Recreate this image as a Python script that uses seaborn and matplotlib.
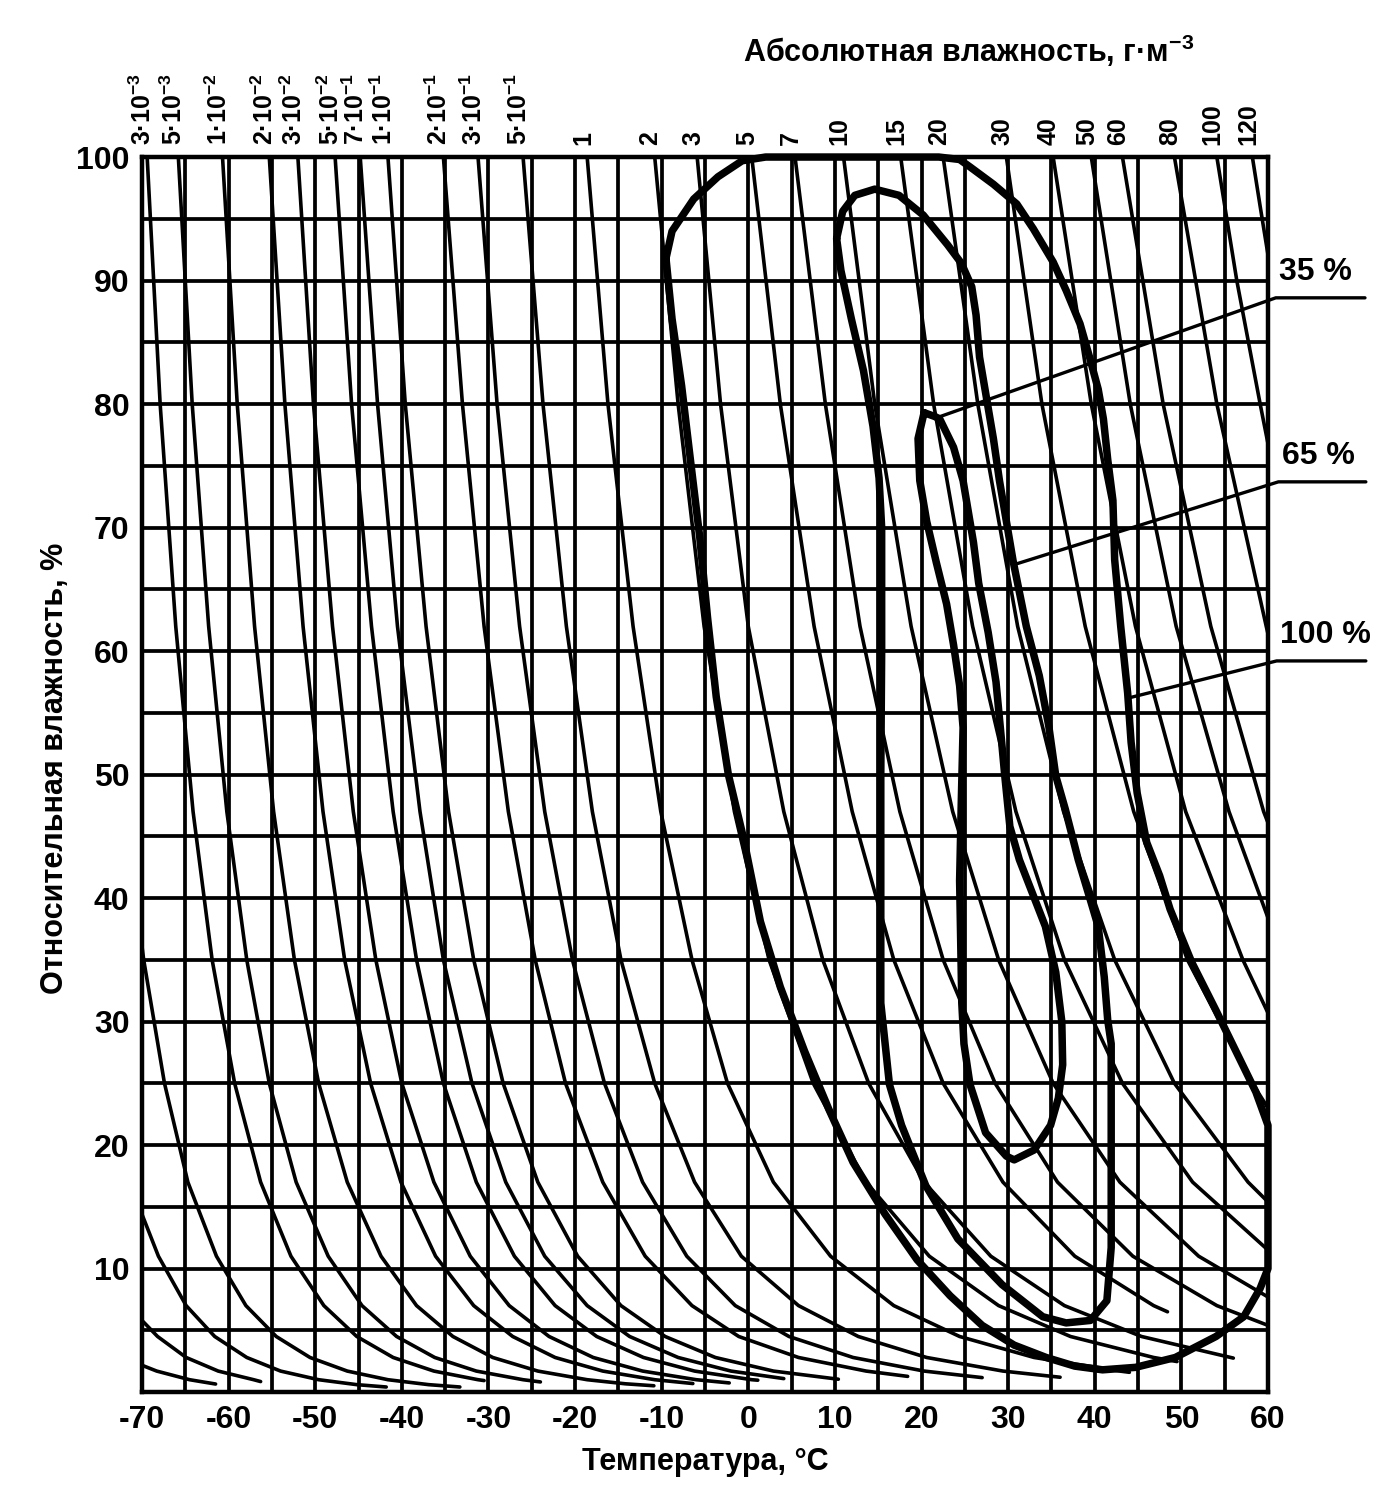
import pandas as pd
import seaborn as sns
import matplotlib
matplotlib.use("Agg")
import matplotlib.pyplot as plt

# === absolute humidity isolines, (temperature °C, relative humidity %) ===
# unlabeled lines entering from the left edge
ah_6e_5 = [(-70, 2.17), (-68.3, 1.7), (-64.5, 1.0), (-61.5, 0.65)]
ah_1_6e_4 = [(-70, 5.8), (-68.2, 4.5), (-64.9, 2.8), (-61.2, 1.7), (-57.1, 1.0), (-56.3, 0.85)]
ah_4e_4 = [(-70, 14.4), (-68.1, 11), (-64.9, 7), (-61.6, 4.5), (-57.9, 2.8), (-54.0, 1.7),
           (-49.6, 1.0), (-45.2, 0.6), (-41.8, 0.41)]
ah_1e_3 = [(-70, 36.1), (-69.8, 35), (-67.4, 25), (-64.7, 17), (-61.4, 11), (-58.0, 7), (-54.5, 4.5),
           (-50.6, 2.8), (-46.3, 1.7), (-41.6, 1.0), (-36.9, 0.6), (-33.3, 0.41)]

# labeled lines (label on top axis)
ah_3e_3 = [(-69.4, 100), (-67.9, 80), (-66.1, 62), (-64.1, 47), (-61.9, 35), (-59.3, 25), (-56.3, 17),
           (-52.8, 11), (-49.0, 7), (-45.2, 4.5), (-41.0, 2.8), (-36.3, 1.7), (-31.2, 1.0), (-30.5, 0.93)]
ah_5e_3 = [(-65.8, 100), (-64.2, 80), (-62.3, 62), (-60.2, 47), (-57.9, 35), (-55.3, 25), (-52.2, 17),
           (-48.5, 11), (-44.6, 7), (-40.6, 4.5), (-36.2, 2.8), (-31.4, 1.7), (-26.0, 1.0), (-24.0, 0.82)]
ah_1e_2 = [(-60.7, 100), (-59.0, 80), (-57.0, 62), (-54.8, 47), (-52.4, 35), (-49.6, 25), (-46.3, 17),
           (-42.4, 11), (-38.3, 7), (-34.1, 4.5), (-29.5, 2.8), (-24.3, 1.7), (-18.6, 1.0), (-14.2, 0.67),
           (-10.9, 0.51)]
ah_2e_2 = [(-55.3, 100), (-53.5, 80), (-51.4, 62), (-49.1, 47), (-46.6, 35), (-43.6, 25), (-40.1, 17),
           (-36.1, 11), (-31.7, 7), (-27.2, 4.5), (-22.3, 2.8), (-16.8, 1.7), (-10.8, 1.0), (-6.4, 0.69)]
ah_3e_2 = [(-52.0, 100), (-50.2, 80), (-48.0, 62), (-45.6, 47), (-43.0, 35), (-40.0, 25), (-36.3, 17),
           (-32.1, 11), (-27.6, 7), (-23.0, 4.5), (-17.9, 2.8), (-12.2, 1.7), (-6.0, 1.0), (-2.2, 0.74)]
ah_5e_2 = [(-47.7, 100), (-45.8, 80), (-43.5, 62), (-41.0, 47), (-38.3, 35), (-35.2, 25), (-31.4, 17),
           (-27.0, 11), (-22.3, 7), (-17.5, 4.5), (-12.1, 2.8), (-6.2, 1.7), (0.4, 1.0), (1.1, 0.96)]
ah_7e_2 = [(-44.8, 100), (-42.8, 80), (-40.5, 62), (-37.9, 47), (-35.2, 35), (-31.9, 25), (-28.0, 17),
           (-23.5, 11), (-18.6, 7), (-13.7, 4.5), (-8.1, 2.8), (-2.0, 1.7), (4.1, 1.09)]
ah_1e_1 = [(-41.6, 100), (-39.6, 80), (-37.2, 62), (-34.6, 47), (-31.7, 35), (-28.3, 25), (-24.3, 17),
           (-19.7, 11), (-14.7, 7), (-9.6, 4.5), (-3.8, 2.8), (2.9, 1.7), (10.4, 1.04)]
ah_2e_1 = [(-35.2, 100), (-33.0, 80), (-30.5, 62), (-27.7, 47), (-24.6, 35), (-21.1, 25), (-16.8, 17),
           (-11.9, 11), (-6.5, 7), (-1.1, 4.5), (5.8, 2.8), (13.6, 1.7), (18.4, 1.27)]
ah_3e_1 = [(-31.2, 100), (-29.0, 80), (-26.4, 62), (-23.5, 47), (-20.3, 35), (-16.6, 25), (-12.2, 17),
           (-7.1, 11), (-1.5, 7), (4.7, 4.5), (12.1, 2.8), (20.3, 1.7), (27.0, 1.17)]
ah_5e_1 = [(-26.0, 100), (-23.7, 80), (-21.0, 62), (-18.0, 47), (-14.7, 35), (-10.8, 25), (-6.2, 17),
           (-0.8, 11), (5.8, 7), (12.7, 4.5), (20.6, 2.8), (29.4, 1.7), (36.0, 1.2)]
ah_1 = [(-18.6, 100), (-16.2, 80), (-13.3, 62), (-10.1, 47), (-6.5, 35), (-2.4, 25), (2.9, 17),
        (9.5, 11), (16.8, 7), (24.4, 4.5), (33.0, 2.8), (42.9, 1.7), (44.0, 1.6)]
ah_2 = [(-10.8, 100), (-8.1, 80), (-5.1, 62), (-1.6, 47), (2.4, 35), (7.5, 25), (13.6, 17),
        (20.9, 11), (28.9, 7), (37.2, 4.5), (46.8, 2.8), (49.5, 2.47)]
ah_3 = [(-5.9, 100), (-3.2, 80), (0.0, 62), (4.1, 47), (8.6, 35), (13.9, 25), (20.3, 17),
        (28.0, 11), (36.5, 7), (45.4, 4.5), (56.0, 2.75)]
ah_5 = [(0.4, 100), (3.7, 80), (7.6, 62), (12.0, 47), (16.8, 35), (22.5, 25), (29.4, 17),
        (37.7, 11), (46.8, 7), (48.4, 6.5)]
ah_7 = [(5.4, 100), (8.9, 80), (12.9, 62), (17.5, 47), (22.5, 35), (28.5, 25), (35.7, 17),
        (44.4, 11), (54.1, 7), (60, 5.4)]
ah_10 = [(11.0, 100), (14.6, 80), (18.8, 62), (23.6, 47), (28.9, 35), (35.2, 25), (42.9, 17),
         (52.0, 11), (60, 7.7)]
ah_15 = [(17.6, 100), (21.4, 80), (25.9, 62), (30.9, 47), (36.5, 35), (43.2, 25), (51.3, 17), (60, 11.5)]
ah_20 = [(22.5, 100), (26.5, 80), (31.1, 62), (36.4, 47), (42.3, 35), (49.2, 25), (57.7, 17), (60, 15.4)]
ah_30 = [(29.8, 100), (33.9, 80), (38.9, 62), (44.5, 47), (50.7, 35), (58.2, 25), (60, 23.0)]
ah_40 = [(35.2, 100), (39.6, 80), (44.7, 62), (50.5, 47), (57.1, 35), (60, 30.7)]
ah_50 = [(39.6, 100), (44.1, 80), (49.4, 62), (55.5, 47), (60, 38.4)]
ah_60 = [(43.2, 100), (47.9, 80), (53.4, 62), (59.5, 47), (60, 46.1)]
ah_80 = [(49.2, 100), (54.1, 80), (59.8, 62), (60, 61.4)]
ah_100 = [(54.1, 100), (56.4, 90), (59.1, 80), (60, 76.8)]
ah_120 = [(58.2, 100), (59.1, 96), (60, 92.1)]

labeled_curves = [ah_3e_3, ah_5e_3, ah_1e_2, ah_2e_2, ah_3e_2, ah_5e_2, ah_7e_2, ah_1e_1, ah_2e_1,
                  ah_3e_1, ah_5e_1, ah_1, ah_2, ah_3, ah_5, ah_7, ah_10, ah_15, ah_20, ah_30, ah_40,
                  ah_50, ah_60, ah_80, ah_100, ah_120]
top_labels = [r"$3·10^{-3}$", r"$5·10^{-3}$", r"$1·10^{-2}$", r"$2·10^{-2}$", r"$3·10^{-2}$",
              r"$5·10^{-2}$", r"$7·10^{-1}$", r"$1·10^{-1}$", r"$2·10^{-1}$", r"$3·10^{-1}$",
              r"$5·10^{-1}$", "1", "2", "3", "5", "7", "10", "15", "20", "30", "40", "50", "60",
              "80", "100", "120"]
unlabeled_curves = [ah_6e_5, ah_1_6e_4, ah_4e_4, ah_1e_3]

# === closed zones (thick outlines) ===
zone_100 = [(-9.5, 91.8), (-8.8, 94.0), (-6.3, 96.6), (-3.5, 98.4), (-0.7, 99.7), (2.0, 100), (22.0, 100),
            (24.4, 99.8), (25.6, 99.2), (28.3, 97.8), (31.0, 96.2), (32.9, 94.2), (35.2, 91.5),
            (36.7, 89.2), (38.3, 86.5), (39.4, 83.8), (40.4, 81.2), (41.0, 78.8), (41.5, 75.5),
            (42.1, 72.2), (42.3, 67.4), (43.0, 62.0), (43.8, 56.6), (44.2, 52.6), (44.9, 48.5),
            (46.0, 44.5), (47.5, 41.8), (48.7, 39.1), (51.2, 34.8), (54.0, 30.9), (56.3, 27.6),
            (58.6, 24.3), (60.0, 21.6), (60.0, 10.0), (59.1, 8.4), (57.2, 6.1), (54.0, 4.5),
            (49.3, 2.8), (44.7, 2.0), (40.9, 1.8), (37.7, 2.1), (34.4, 2.8), (30.7, 3.8), (27.0, 5.4),
            (23.3, 7.8), (19.5, 10.7), (15.8, 14.4), (12.1, 18.6), (9.3, 22.9), (6.5, 27.6),
            (3.7, 32.8), (1.4, 38.1), (-0.5, 44.7), (-2.3, 50.0), (-3.7, 56.3), (-4.7, 62.7),
            (-5.6, 69.2), (-6.7, 75.6), (-7.7, 81.5), (-8.8, 86.9), (-9.5, 91.8)]
zone_65 = [(10.2, 93.4), (10.9, 95.6), (12.3, 96.9), (14.6, 97.4), (17.4, 96.9), (20.2, 95.3),
           (23.0, 92.9), (24.6, 91.4), (25.8, 89.5), (26.3, 87.2), (26.7, 83.8), (27.5, 80.5),
           (28.3, 77.2), (29.0, 73.8), (29.8, 70.5), (30.6, 67.2), (32.1, 62.0), (33.6, 58.0),
           (34.7, 53.9), (35.5, 49.9), (36.6, 47.2), (38.1, 43.1), (39.6, 39.6), (40.4, 37.7),
           (41.1, 33.6), (41.5, 30.1), (41.9, 28.2), (41.9, 21.6), (41.9, 11.7), (41.4, 7.4),
           (39.5, 5.8), (36.7, 5.6), (34.0, 6.1), (29.3, 8.7), (24.2, 12.4), (20.5, 16.7),
           (17.7, 21.6), (16.3, 24.9), (15.3, 31.5), (15.3, 40), (15.3, 50), (15.4, 60), (15.4, 70),
           (15.1, 74.0), (14.4, 78.2), (13.3, 82.7), (11.9, 86.9), (10.7, 90.8), (10.2, 93.4)]
zone_35 = [(20.3, 79.3), (21.5, 79.0), (22.1, 78.8), (23.7, 76.5), (24.8, 73.8), (26.0, 68.8),
           (26.6, 65.5), (27.7, 61.5), (28.6, 57.5), (29.1, 53.8), (29.6, 50.0), (30.2, 45.8),
           (31.3, 43.1), (32.8, 40.4), (34.3, 37.7), (35.5, 34.0), (36.2, 30.0), (36.3, 26.5),
           (35.8, 23.8), (34.9, 21.6), (33.0, 19.6), (30.7, 18.8), (29.8, 19.1), (27.4, 21.0),
           (25.6, 24.9), (24.9, 28.2), (24.65, 31.5), (24.4, 41.4), (24.6, 48.0), (24.8, 53.8),
           (24.4, 57.2), (23.7, 60.5), (22.9, 63.8), (21.7, 67.2), (20.6, 70.5), (19.8, 73.8),
           (19.6, 77.2), (20.3, 79.3)]
zone_names = ["35 %", "65 %", "100 %"]
# leader lines: point on the zone -> kink past right edge -> end of underline
leader_35 = [(21.8, 78.9), (60.9, 88.6), (71.2, 88.6)]
leader_65 = [(30.7, 67.0), (61.2, 73.7), (71.3, 73.7)]
leader_100 = [(43.9, 56.2), (61.0, 59.2), (71.3, 59.2)]

x_ticks = list(range(-70, 61, 10))
y_ticks = list(range(10, 101, 10))

# === build tables ===
rows = []
for i, c in enumerate(unlabeled_curves + labeled_curves):
    for t, rh in c:
        rows.append((i, t, rh))
iso = pd.DataFrame(rows, columns=["curve", "T", "RH"])

rows = []
for name, z in zip(zone_names, [zone_35, zone_65, zone_100]):
    for t, rh in z:
        rows.append((name, t, rh))
zones = pd.DataFrame(rows, columns=["zone", "T", "RH"])

rows = []
for name, z in zip(zone_names, [leader_35, leader_65, leader_100]):
    for t, rh in z:
        rows.append((name, t, rh))
leaders = pd.DataFrame(rows, columns=["zone", "T", "RH"])

# === style ===
sns.set_style("white")
plt.rcParams["font.family"] = ["Liberation Sans", "DejaVu Sans"]
plt.rcParams["font.weight"] = "bold"
plt.rcParams["text.color"] = "black"
plt.rcParams["axes.labelcolor"] = "black"
plt.rcParams["xtick.color"] = "black"
plt.rcParams["ytick.color"] = "black"
plt.rcParams["mathtext.fontset"] = "custom"
plt.rcParams["mathtext.rm"] = "Liberation Sans:bold"
plt.rcParams["mathtext.bf"] = "Liberation Sans:bold"
plt.rcParams["mathtext.default"] = "rm"
plt.rcParams["axes.unicode_minus"] = False

fig = plt.figure(figsize=(13.85, 14.97), dpi=100)
ax = fig.add_axes([0.1025, 0.0701, 0.8130, 0.8250])

# grid every 5 °C and 5 %
for t in range(-65, 60, 5):
    ax.axvline(t, color="black", lw=2.7, zorder=1)
for rh in range(5, 100, 5):
    ax.axhline(rh, color="black", lw=2.7, zorder=1)

sns.lineplot(data=iso, x="T", y="RH", units="curve", estimator=None, sort=False,
             color="black", lw=2.6, ax=ax, legend=False, zorder=2)
n_before = len(ax.lines)
sns.lineplot(data=zones, x="T", y="RH", units="zone", estimator=None, sort=False,
             color="black", lw=5.4, ax=ax, legend=False, zorder=3)
for ln in ax.lines[n_before:]:
    ln.set_clip_on(False)
    ln.set_solid_joinstyle("round")
n_before = len(ax.lines)
sns.lineplot(data=leaders, x="T", y="RH", units="zone", estimator=None, sort=False,
             color="black", lw=2.4, ax=ax, legend=False, zorder=3)
for ln in ax.lines[n_before:]:
    ln.set_clip_on(False)

# zone names above the underline
for name, lead in zip(zone_names, [leader_35, leader_65, leader_100]):
    ax.text(lead[1][0] + 0.4, lead[1][1] + 0.9, name, fontsize=23, fontweight="bold",
            ha="left", va="bottom", clip_on=False)

# labels of the isolines on the top edge
for c, lab in zip(labeled_curves, top_labels):
    ax.annotate(lab, xy=(c[0][0], 100), xytext=(-3, 9), textcoords="offset points",
                rotation=90, ha="center", va="bottom", fontsize=18, fontweight="bold",
                annotation_clip=False)

ax.set_xlim(-70, 60)
ax.set_ylim(0, 100)
ax.set_xticks(x_ticks)
ax.set_xticklabels([str(v) for v in x_ticks])
ax.set_yticks(y_ticks)
ax.set_yticklabels([str(v) for v in y_ticks])
ax.tick_params(length=0, labelsize=23, pad=9, colors="black")
for lab in ax.get_xticklabels() + ax.get_yticklabels():
    lab.set_fontweight("bold")
ax.set_xlabel("")
ax.set_ylabel("")
for s in ax.spines.values():
    s.set_linewidth(3.2)
    s.set_color("black")
    s.set_zorder(4)

fig.text(0.509, 0.0234, "Температура, °C", fontsize=22, fontweight="bold", ha="center", va="center")
fig.text(0.040, 0.487, "Относительная влажность, %", fontsize=22, fontweight="bold",
         rotation=90, ha="center", va="center")
fig.text(0.699, 0.9586, r"Абсолютная влажность, г·м$^{-3}$", fontsize=22, fontweight="bold",
         ha="center", va="baseline")

fig.savefig("out.png", dpi=100)
